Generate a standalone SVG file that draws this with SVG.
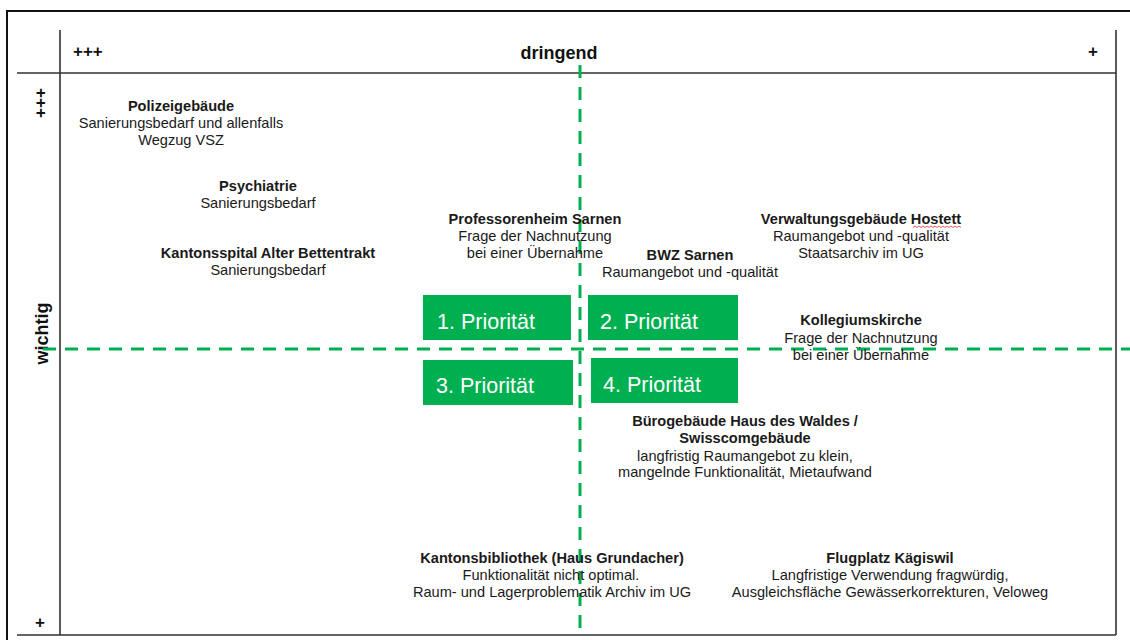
<svg xmlns="http://www.w3.org/2000/svg" width="1130" height="640" viewBox="0 0 1130 640">
<style>
.frame{stroke:#111;stroke-width:2;fill:none}
.grid{stroke:#333;stroke-width:1.6;fill:none}
.dash{stroke:#00B050;stroke-width:3;stroke-dasharray:13 9;fill:none}
.box{fill:#00B050}
.bt{font-family:"Liberation Sans",Arial,sans-serif;font-size:21.5px;fill:#fff}
.ax{font-family:"Liberation Sans",Arial,sans-serif;font-weight:bold;fill:#111}
.t{font-family:"Liberation Sans",Arial,sans-serif;font-size:14.6px;fill:#1a1a1a;text-anchor:middle}
.h{font-weight:bold;font-size:14.6px}
</style>
<rect width="1130" height="640" fill="#fff"/>
<g id="frame">
<path class="frame" d="M7,640 V11 H1130"/>
<path class="grid" d="M60,30 V635 M17,73 H1116 M1116,30 V635 M17,635 H1116"/>
</g>
<g id="axes">
<text class="ax" x="73" y="57" font-size="17">+++</text>
<text class="ax" x="559" y="59" font-size="18" text-anchor="middle">dringend</text>
<text class="ax" x="1093" y="57" font-size="17" text-anchor="middle">+</text>
<text class="ax" font-size="17" text-anchor="middle" transform="translate(46,103) rotate(-90)">+++</text>
<text class="ax" font-size="18" text-anchor="middle" transform="translate(48,333.5) rotate(-90)">wichtig</text>
<text class="ax" x="40" y="628" font-size="17" text-anchor="middle">+</text>
</g>
<g id="connectors">
<path class="dash" d="M580,65 V635"/>
<path class="dash" d="M43,349 H1130"/>
</g>
<g id="prio1"><rect class="box" x="423" y="295" width="148" height="45"/><text class="bt" x="437" y="329">1. Priorität</text></g>
<g id="prio2"><rect class="box" x="588" y="295" width="150" height="45"/><text class="bt" x="600" y="329">2. Priorität</text></g>
<g id="prio3"><rect class="box" x="423" y="360" width="150" height="45"/><text class="bt" x="436" y="393">3. Priorität</text></g>
<g id="prio4"><rect class="box" x="591" y="358" width="147" height="45"/><text class="bt" x="603" y="392">4. Priorität</text></g>
<g id="polizei"><text class="t" x="181" y="111"><tspan class="h">Polizeigebäude</tspan><tspan x="181" y="128">Sanierungsbedarf und allenfalls</tspan><tspan x="181" y="145">Wegzug VSZ</tspan></text></g>
<g id="psychiatrie"><text class="t" x="258" y="191"><tspan class="h">Psychiatrie</tspan><tspan x="258" y="208">Sanierungsbedarf</tspan></text></g>
<g id="kantonsspital"><text class="t" x="268" y="258"><tspan class="h">Kantonsspital Alter Bettentrakt</tspan><tspan x="268" y="275">Sanierungsbedarf</tspan></text></g>
<g id="professorenheim"><text class="t" x="535" y="224"><tspan class="h">Professorenheim Sarnen</tspan><tspan x="535" y="241">Frage der Nachnutzung</tspan><tspan x="535" y="258">bei einer Übernahme</tspan></text></g>
<g id="bwz"><text class="t" x="690" y="260"><tspan class="h">BWZ Sarnen</tspan><tspan x="690" y="277">Raumangebot und -qualität</tspan></text></g>
<g id="hostett"><text class="t" x="861" y="224"><tspan class="h">Verwaltungsgebäude Hostett</tspan><tspan x="861" y="241">Raumangebot und -qualität</tspan><tspan x="861" y="258">Staatsarchiv im UG</tspan></text>
<path d="M913,227.5 l2,-1.5 l2,1.5 l2,-1.5 l2,1.5 l2,-1.5 l2,1.5 l2,-1.5 l2,1.5 l2,-1.5 l2,1.5 l2,-1.5 l2,1.5 l2,-1.5 l2,1.5 l2,-1.5 l2,1.5 l2,-1.5 l2,1.5 l2,-1.5 l2,1.5 l2,-1.5 l2,1.5 l2,-1.5 l2,1.5" stroke="#e33" stroke-width="0.8" fill="none"/></g>
<g id="kollegiumskirche"><text class="t" x="861" y="325"><tspan class="h">Kollegiumskirche</tspan><tspan x="861" y="343">Frage der Nachnutzung</tspan><tspan x="861" y="360">bei einer Übernahme</tspan></text></g>
<g id="buerogebaeude"><text class="t" x="745" y="426"><tspan class="h">Bürogebäude Haus des Waldes /</tspan><tspan class="h" x="745" y="443">Swisscomgebäude</tspan><tspan x="745" y="461">langfristig Raumangebot zu klein,</tspan><tspan x="745" y="477">mangelnde Funktionalität, Mietaufwand</tspan></text></g>
<g id="kantonsbibliothek"><text class="t" x="552" y="563"><tspan class="h">Kantonsbibliothek (Haus Grundacher)</tspan><tspan x="551" y="580">Funktionalität nicht optimal.</tspan><tspan x="552" y="597">Raum- und Lagerproblematik Archiv im UG</tspan></text></g>
<g id="flugplatz"><text class="t" x="890" y="563"><tspan class="h">Flugplatz Kägiswil</tspan><tspan x="890" y="580">Langfristige Verwendung fragwürdig,</tspan><tspan x="890" y="597">Ausgleichsfläche Gewässerkorrekturen, Veloweg</tspan></text></g>
</svg>
